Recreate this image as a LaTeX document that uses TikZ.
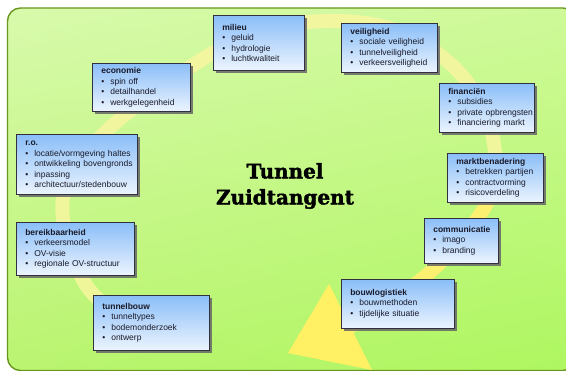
\documentclass[tikz,border=0pt]{standalone}
\usepackage{fontspec}
\setmainfont{Liberation Sans}
\newfontfamily\headfont{DejaVu Serif}[BoldFeatures={FakeBold=2}]
\usetikzlibrary{shadows,shadings}

\definecolor{bgUL}{RGB}{216,250,172}
\definecolor{bgUR}{RGB}{206,249,152}
\definecolor{bgLL}{RGB}{186,244,112}
\definecolor{bgLR}{RGB}{174,247,96}
\definecolor{bgline}{RGB}{104,150,30}
\definecolor{bandpale}{RGB}{248,246,160}
\definecolor{bandyellow}{RGB}{252,240,112}
\definecolor{headyellow}{RGB}{255,240,100}
\definecolor{boxtop}{RGB}{138,190,248}
\definecolor{boxbot}{RGB}{236,244,254}
\definecolor{boxline}{RGB}{48,48,64}
\definecolor{boxtext}{RGB}{26,26,40}

\newcommand{\topichead}[1]{\textbf{#1}}
\newcommand{\topicitem}[1]{\mbox{\makebox[9pt][l]{\textbullet}#1}}

\begin{document}
\begin{tikzpicture}[x=1pt,y=-1pt,
  topic/.style={draw=boxline, line width=0.6pt,
    top color=boxtop, bottom color=boxbot,
    drop shadow={shadow xshift=3pt, shadow yshift=-3pt, fill=black!60, opacity=0.85},
    anchor=north west, inner xsep=9pt, inner ysep=0pt, align=left,
    font=\fontsize{8.5}{10.5}\selectfont, text=boxtext},
  band/.style={line width=14pt, line cap=butt},
]
\useasboundingbox (0,0) rectangle (566,371);
\clip (0,0) rectangle (566,371);

% page and rounded green panel
\fill[white] (0,0) rectangle (566,371);
\shade[upper left=bgUL, upper right=bgUR, lower left=bgLL, lower right=bgLR,
  rounded corners=13pt] (7.5,8) rectangle (576,370.5);
\draw[bgline, line width=1.4pt, rounded corners=13pt] (7.5,8) rectangle (576,370.5);

% circular arrow behind the topics
\draw[band, bandpale, opacity=0.85] plot[smooth, tension=0.6] coordinates
  {(118,316) (86,285) (65,232) (68,180) (113,125) (201,60) (262,32)
   (325,21) (395,30) (455,68) (488,120) (496,165)};
\draw[band, bandyellow] plot[smooth, tension=0.6] coordinates
  {(496,165) (483,210) (428,274) (350,327)};
\coordinate (headA) at (329,284);
\coordinate (headTip) at (288,353);
\coordinate (headB) at (372,370);
\fill[headyellow] (headA) -- (headTip) -- (headB) -- cycle;

% central title
\node[font=\headfont\bfseries\fontsize{20}{26}\selectfont, align=center, inner sep=0pt]
  (title) at (285,186) {Tunnel\\Zuidtangent};

% topics
\node[topic, text width=73pt, minimum height=55pt] (milieu) at (213,15)
  {\topichead{milieu}\\\topicitem{geluid}\\\topicitem{hydrologie}\\\topicitem{luchtkwaliteit}};
\node[topic, text width=78pt, minimum height=49pt] (veiligheid) at (341,23)
  {\topichead{veiligheid}\\\topicitem{sociale veiligheid}\\\topicitem{tunnelveiligheid}\\\topicitem{verkeersveiligheid}};
\node[topic, text width=77pt, minimum height=49pt] (financien) at (439,83)
  {\topichead{financiën}\\\topicitem{subsidies}\\\topicitem{private opbrengsten}\\\topicitem{financiering markt}};
\node[topic, text width=78pt, minimum height=49pt] (markt) at (447,153)
  {\topichead{marktbenadering}\\\topicitem{betrekken partijen}\\\topicitem{contractvorming}\\\topicitem{risicoverdeling}};
\node[topic, text width=56pt, minimum height=45pt] (communicatie) at (424,218)
  {\topichead{communicatie}\\\topicitem{imago}\\\topicitem{branding}};
\node[topic, text width=95pt, minimum height=49pt] (bouwlogistiek) at (341,279)
  {\topichead{bouwlogistiek}\\\topicitem{bouwmethoden}\\\topicitem{tijdelijke situatie}};
\node[topic, text width=98pt, minimum height=55pt] (tunnelbouw) at (93,295)
  {\topichead{tunnelbouw}\\\topicitem{tunneltypes}\\\topicitem{bodemonderzoek}\\\topicitem{ontwerp}};
\node[topic, text width=100pt, minimum height=53pt] (bereik) at (16,222)
  {\topichead{bereikbaarheid}\\\topicitem{verkeersmodel}\\\topicitem{OV-visie}\\\topicitem{regionale OV-structuur}};
\node[topic, text width=103pt, minimum height=60pt] (ro) at (16,134)
  {\topichead{r.o.}\\\topicitem{locatie/vormgeving haltes}\\\topicitem{ontwikkeling bovengronds}\\\topicitem{inpassing}\\\topicitem{architectuur/stedenbouw}};
\node[topic, text width=80pt, minimum height=48pt] (economie) at (92,63)
  {\topichead{economie}\\\topicitem{spin off}\\\topicitem{detailhandel}\\\topicitem{werkgelegenheid}};
\end{tikzpicture}
\end{document}
